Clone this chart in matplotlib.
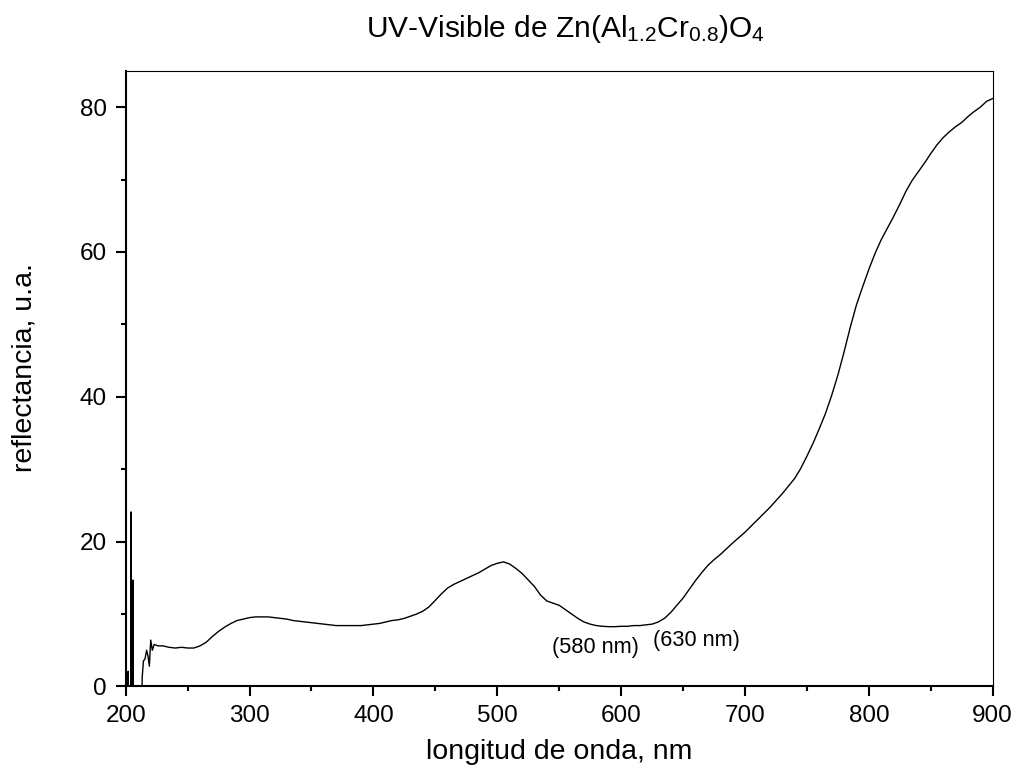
import matplotlib
matplotlib.use("Agg")
import matplotlib.pyplot as plt
from matplotlib.ticker import MultipleLocator

plt.rcParams['font.family'] = ['Liberation Sans', 'DejaVu Sans']
plt.rcParams['mathtext.fontset'] = 'custom'
plt.rcParams['mathtext.rm'] = 'Liberation Sans'
plt.rcParams['mathtext.it'] = 'Liberation Sans:italic'
plt.rcParams['mathtext.bf'] = 'Liberation Sans:bold'

# wavelength (nm) and reflectance (a.u.)
wavelength = [200, 201.5, 202, 202.5, 204.0, 204.3, 204.6, 205.5, 205.8, 206.1, 213,
              213.3, 214.3, 215.6, 216.9, 218.0, 219.1, 220.2, 221.5, 223, 226, 230,
              235, 240, 245, 250, 255, 260, 265, 270, 275, 280, 285, 290, 295, 300,
              305, 310, 315, 320, 325, 330, 335, 340, 345, 350, 355, 360, 365, 370,
              375, 380, 385, 390, 395, 400, 405, 410, 415, 420, 425, 430, 435, 440,
              445, 450, 455, 460, 465, 470, 475, 480, 485, 490, 495, 500, 505, 510,
              515, 520, 525, 530, 535, 540, 545, 550, 555, 560, 565, 570, 575, 580,
              585, 590, 595, 600, 605, 610, 615, 620, 625, 630, 635, 640, 645, 650,
              655, 660, 665, 670, 675, 680, 690, 700, 710, 720, 730, 740, 745, 750,
              755, 760, 765, 770, 775, 780, 785, 790, 795, 800, 805, 810, 815, 820,
              825, 830, 835, 840, 845, 850, 855, 860, 865, 870, 875, 880, 885, 890,
              895, 900]
reflectance = [-5, -5, 2.1, -5, -5, 24.1, -5, -5, 14.7, -5, -5,
               1.2, 3.5, 3.8, 5.0, 4.2, 2.8, 6.4, 5.0, 5.8, 5.6, 5.6,
               5.4, 5.3, 5.4, 5.3, 5.3, 5.6, 6.1, 6.9, 7.6, 8.2, 8.7, 9.1, 9.3, 9.5,
               9.6, 9.6, 9.6, 9.5, 9.4, 9.3, 9.1, 9.0, 8.9, 8.8, 8.7, 8.6, 8.5, 8.4,
               8.4, 8.4, 8.4, 8.4, 8.5, 8.6, 8.7, 8.9, 9.1, 9.2, 9.4, 9.7, 10.0, 10.4,
               11.0, 11.9, 12.8, 13.6, 14.1, 14.5, 14.9, 15.3, 15.7, 16.2, 16.7, 17.0, 17.2, 16.9,
               16.3, 15.6, 14.7, 13.8, 12.6, 11.8, 11.5, 11.2, 10.6, 10.0, 9.4, 8.9, 8.6, 8.4,
               8.3, 8.25, 8.25, 8.3, 8.3, 8.4, 8.4, 8.5, 8.6, 8.9, 9.4, 10.2, 11.2, 12.2,
               13.4, 14.6, 15.7, 16.7, 17.5, 18.2, 19.8, 21.3, 23.0, 24.7, 26.6, 28.7, 30.1, 31.8,
               33.6, 35.6, 37.7, 40.2, 43.0, 46.2, 49.6, 52.7, 55.2, 57.6, 59.8, 61.7, 63.3, 64.9,
               66.6, 68.4, 69.9, 71.1, 72.3, 73.6, 74.8, 75.8, 76.6, 77.3, 77.9, 78.7, 79.4, 80.0,
               80.8, 81.2]

annot_text = ["(580 nm)", "(630 nm)"]
annot_x = [579, 661]
annot_y = [5.4, 6.4]

W, H = 1016, 776
fig = plt.figure(figsize=(W / 100, H / 100), dpi=100)
ax = fig.add_axes([125.7 / W, 1 - 686.4 / H, (992.7 - 125.7) / W, (686.4 - 71) / H])

ax.plot(wavelength, reflectance, color='black', lw=1.0)

ax.set_xlim(200, 900)
ax.set_ylim(0, 85)
ax.xaxis.set_major_locator(MultipleLocator(100))
ax.xaxis.set_minor_locator(MultipleLocator(50))
ax.yaxis.set_major_locator(MultipleLocator(20))
ax.yaxis.set_minor_locator(MultipleLocator(10))

for side in ['left', 'bottom']:
    ax.spines[side].set_linewidth(1.5)
for side in ['top', 'right']:
    ax.spines[side].set_linewidth(0.8)

ax.tick_params(which='major', direction='out', length=7.5, width=1.5,
               labelsize=17.5, pad=6, top=False, right=False)
ax.tick_params(which='minor', direction='out', length=3.6, width=1.5,
               top=False, right=False)

ax.set_xlabel("longitud de onda, nm", fontsize=20.5)
ax.set_ylabel("reflectancia, u.a.", fontsize=20.5)
ax.yaxis.set_label_coords((38 - 125.7) / (992.7 - 125.7), 0.519)
ax.xaxis.set_label_coords(0.5, -(752 - 686.4) / (686.4 - 71))
ax.xaxis.label.set_verticalalignment('center')

for t, x, y in zip(annot_text, annot_x, annot_y):
    ax.text(x, y, t, fontsize=15.7, ha='center', va='center')

fig.text(565 / W, 1 - 36.7 / H, r"UV-Visible de Zn(Al$_{1.2}$Cr$_{0.8}$)O$_{4}$",
         fontsize=21.5, ha='center', va='baseline')

fig.savefig("out.png", dpi=100)
